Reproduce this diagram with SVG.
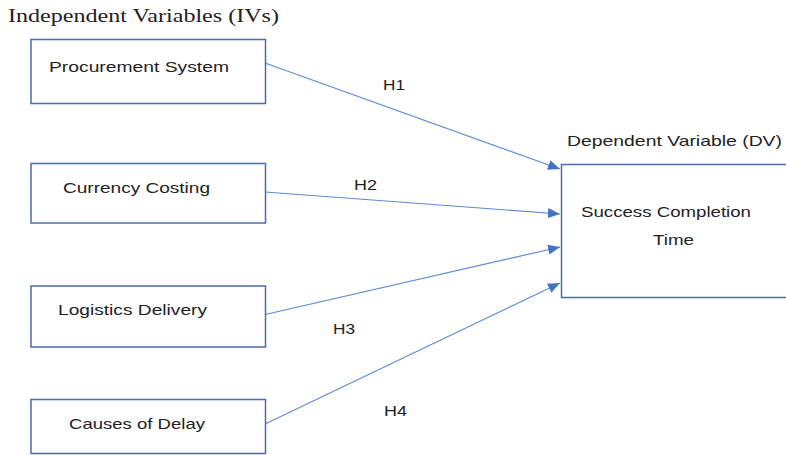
<svg xmlns="http://www.w3.org/2000/svg" width="786" height="455" viewBox="0 0 786 455">
<style>
.box{fill:#fff;stroke:#4a6cad;stroke-width:1.5}
.lbl{font-family:"Liberation Sans",Arial,sans-serif;font-size:15px;fill:#222}
.title{font-family:"Liberation Serif","Times New Roman",serif;font-size:19px;fill:#222}
.conn{stroke:#5f8ad2;stroke-width:1.2;fill:none}
</style>
<defs>
<marker id="arr" markerUnits="userSpaceOnUse" markerWidth="13" markerHeight="10" refX="12" refY="5" orient="auto">
<path d="M0,0 L12,5 L0,10 z" fill="#4472c4"/>
</marker>
</defs>
<rect width="786" height="455" fill="#fff"/>
<text class="title" x="8" y="22" textLength="271" lengthAdjust="spacingAndGlyphs">Independent Variables (IVs)</text>
<g id="connectors">
<line class="conn" x1="265" y1="63" x2="560" y2="169" marker-end="url(#arr)"/>
<line class="conn" x1="265" y1="192" x2="560" y2="214" marker-end="url(#arr)"/>
<line class="conn" x1="263" y1="315" x2="560" y2="247" marker-end="url(#arr)"/>
<line class="conn" x1="263" y1="425" x2="560" y2="283" marker-end="url(#arr)"/>
<text class="lbl" x="383" y="90" textLength="22" lengthAdjust="spacingAndGlyphs">H1</text>
<text class="lbl" x="354" y="190" textLength="23" lengthAdjust="spacingAndGlyphs">H2</text>
<text class="lbl" x="333" y="334" textLength="22" lengthAdjust="spacingAndGlyphs">H3</text>
<text class="lbl" x="384" y="416" textLength="23" lengthAdjust="spacingAndGlyphs">H4</text>
</g>
<g id="iv1">
<rect class="box" x="31" y="39.5" width="234.5" height="64"/>
<text class="lbl" x="49" y="72" textLength="180" lengthAdjust="spacingAndGlyphs">Procurement System</text>
</g>
<g id="iv2">
<rect class="box" x="31" y="163.5" width="234.5" height="59.5"/>
<text class="lbl" x="63" y="193" textLength="147" lengthAdjust="spacingAndGlyphs">Currency Costing</text>
</g>
<g id="iv3">
<rect class="box" x="31" y="286" width="234.5" height="61"/>
<text class="lbl" x="58" y="315" textLength="149" lengthAdjust="spacingAndGlyphs">Logistics Delivery</text>
</g>
<g id="iv4">
<rect class="box" x="31" y="399.5" width="234.5" height="54"/>
<text class="lbl" x="69" y="429" textLength="136" lengthAdjust="spacingAndGlyphs">Causes of Delay</text>
</g>
<g id="dv">
<text class="lbl" x="567" y="146" textLength="215" lengthAdjust="spacingAndGlyphs">Dependent Variable (DV)</text>
<rect class="box" x="561.5" y="164.5" width="240" height="133"/>
<text class="lbl" x="581" y="217" textLength="170" lengthAdjust="spacingAndGlyphs">Success Completion</text>
<text class="lbl" x="653" y="245" textLength="41" lengthAdjust="spacingAndGlyphs">Time</text>
</g>
</svg>
